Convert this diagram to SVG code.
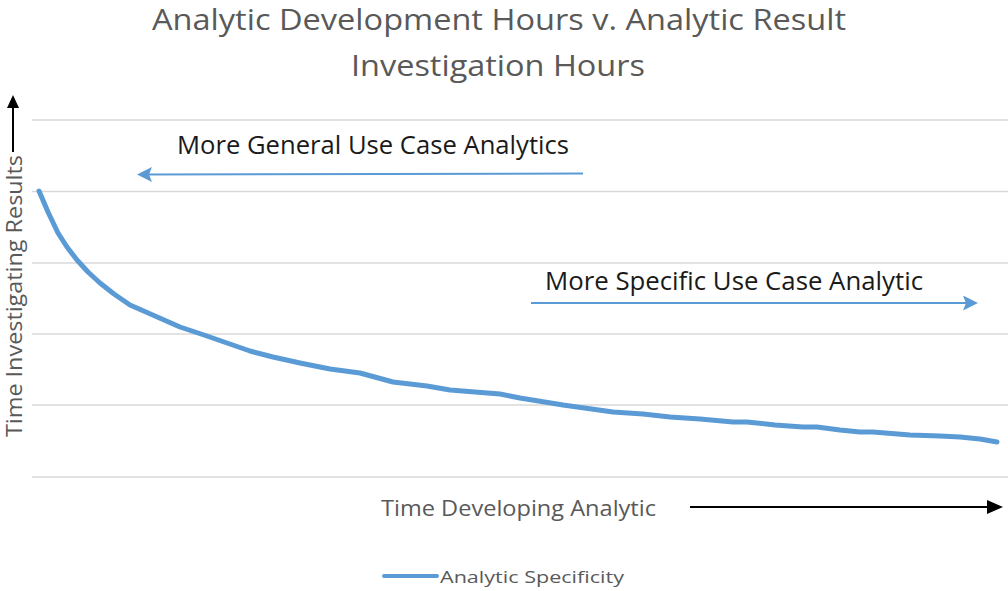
<svg xmlns="http://www.w3.org/2000/svg" width="1008" height="591" viewBox="0 0 1008 591">
<style>
.t{font-family:"Open Sans","Liberation Sans",sans-serif;}
.grid{stroke:#d9d9d9;stroke-width:1.6;fill:none}
.blue{stroke:#5b9bd5;fill:none}
.blk{stroke:#000;stroke-width:2;fill:none}
</style>
<defs>
<marker id="ab" viewBox="0 0 16 14" refX="6" refY="7" markerWidth="16" markerHeight="14" markerUnits="userSpaceOnUse" orient="auto"><path d="M0,0L16,7L0,14z" fill="#000"/></marker>
<marker id="ay" viewBox="0 0 13 12" refX="5" refY="6" markerWidth="13" markerHeight="12" markerUnits="userSpaceOnUse" orient="auto"><path d="M0,0L13,6L0,12z" fill="#000"/></marker>
<marker id="bb" viewBox="0 0 15 15" refX="8" refY="7.5" markerWidth="15" markerHeight="15" markerUnits="userSpaceOnUse" orient="auto"><path d="M0,0L15,7.5L0,15L3,7.5z" fill="#5b9bd5"/></marker>
</defs>
<rect width="1008" height="591" fill="#fff"/>
<g id="title" class="t" fill="#595959" font-size="30" text-anchor="middle">
<text x="499" y="30" textLength="694" lengthAdjust="spacingAndGlyphs">Analytic Development Hours v. Analytic Result</text>
<text x="498" y="76" textLength="294" lengthAdjust="spacingAndGlyphs">Investigation Hours</text>
</g>
<g id="gridlines" class="grid">
<line x1="32" y1="120" x2="1008" y2="120"/>
<line x1="32" y1="191.5" x2="1008" y2="191.5"/>
<line x1="32" y1="263" x2="1008" y2="263"/>
<line x1="32" y1="334" x2="1008" y2="334"/>
<line x1="32" y1="405" x2="1008" y2="405"/>
<line x1="32" y1="477" x2="1008" y2="477"/>
</g>
<g id="series">
<polyline class="blue" stroke-width="5" stroke-linecap="round" stroke-linejoin="round" points="39,191 48,212 58,233 67,247 77,260 88,272 100,283 114,294 130,305 155,316 180,327 204,335 227,343 250,351 273,357 300,363 330,369 360,373 393,382 427,386 450,390 475,392 500,394 520,398 563,405 613,412 643,414 670,417 700,419 733,422 747,422 775,425 803,427 817,427 840,430 860,432 873,432 910,435 940,436 960,437 980,439 997,442"/>
</g>
<g id="connectors">
<line class="blue" stroke-width="2" x1="583" y1="173.5" x2="144" y2="174.5" marker-end="url(#bb)"/>
<line class="blue" stroke-width="2" x1="531" y1="303" x2="971" y2="303" marker-end="url(#bb)"/>
<line class="blk" x1="13" y1="152" x2="13" y2="103" marker-end="url(#ay)"/>
<line class="blk" x1="690" y1="507" x2="993" y2="507" marker-end="url(#ab)"/>
</g>
<g id="label-general" class="t" fill="#1a1a1a" font-size="25">
<text x="177" y="154" textLength="392" lengthAdjust="spacingAndGlyphs">More General Use Case Analytics</text>
</g>
<g id="label-specific" class="t" fill="#1a1a1a" font-size="25">
<text x="545" y="290" textLength="378" lengthAdjust="spacingAndGlyphs">More Specific Use Case Analytic</text>
</g>
<g id="x-axis-label" class="t" fill="#595959" font-size="22">
<text x="381" y="516" textLength="275" lengthAdjust="spacingAndGlyphs">Time Developing Analytic</text>
</g>
<g id="y-axis-label" class="t" fill="#595959" font-size="22">
<text transform="translate(22,296) rotate(-90)" text-anchor="middle" textLength="282" lengthAdjust="spacingAndGlyphs">Time Investigating Results</text>
</g>
<g id="legend">
<line class="blue" stroke-width="4" stroke-linecap="round" x1="384" y1="576" x2="437" y2="576"/>
<text class="t" x="440" y="583" fill="#595959" font-size="17" textLength="184" lengthAdjust="spacingAndGlyphs">Analytic Specificity</text>
</g>
</svg>
